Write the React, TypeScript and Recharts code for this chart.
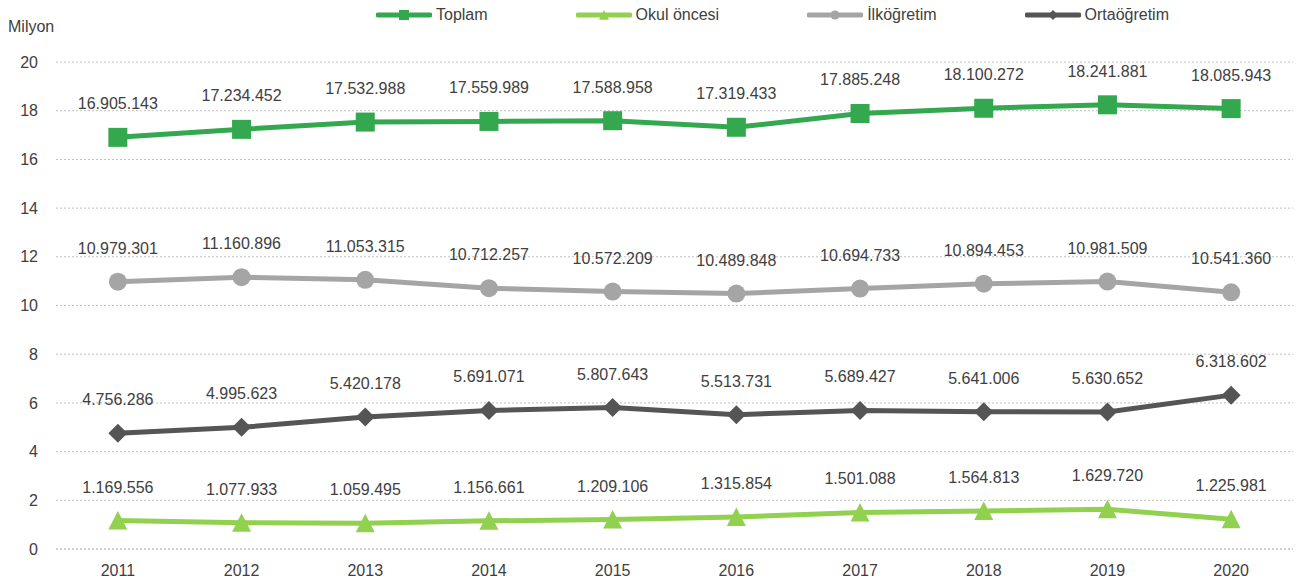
import { LineChart, Line, XAxis, YAxis, CartesianGrid } from 'recharts'

const years = ['2011', '2012', '2013', '2014', '2015', '2016', '2017', '2018', '2019', '2020']
const toplam = [16905143, 17234452, 17532988, 17559989, 17588958, 17319433, 17885248, 18100272, 18241881, 18085943]
const okulOncesi = [1169556, 1077933, 1059495, 1156661, 1209106, 1315854, 1501088, 1564813, 1629720, 1225981]
const ilkogretim = [10979301, 11160896, 11053315, 10712257, 10572209, 10489848, 10694733, 10894453, 10981509, 10541360]
const ortaogretim = [4756286, 4995623, 5420178, 5691071, 5807643, 5513731, 5689427, 5641006, 5630652, 6318602]
const yTicks = [0, 2, 4, 6, 8, 10, 12, 14, 16, 18, 20]

const series = [
  { key: 'toplam', name: 'Toplam', color: '#33a84f', raw: toplam, shape: 'square' },
  { key: 'okul', name: 'Okul öncesi', color: '#92d050', raw: okulOncesi, shape: 'triangle' },
  { key: 'ilk', name: 'İlköğretim', color: '#a5a5a5', raw: ilkogretim, shape: 'circle' },
  { key: 'orta', name: 'Ortaöğretim', color: '#555555', raw: ortaogretim, shape: 'diamond' },
]

const data = years.map((year, i) => {
  const row: any = { year }
  series.forEach(s => {
    row[s.key] = s.raw[i] / 1e6
  })
  return row
})

const fmt = (n: number) => String(n).replace(/\B(?=(\d{3})+(?!\d))/g, '.')
const font = '"Liberation Sans", Arial, sans-serif'

function Marker({ cx, cy, shape, color, size = 9.5 }: any) {
  if (cx == null || cy == null) return null
  if (shape === 'square') return <rect x={cx - size} y={cy - size} width={size * 2} height={size * 2} fill={color} />
  if (shape === 'triangle') {
    return <polygon points={`${cx},${cy - size} ${cx + size},${cy + size * 0.95} ${cx - size},${cy + size * 0.95}`} fill={color} />
  }
  if (shape === 'diamond') return <polygon points={`${cx},${cy - size} ${cx + size},${cy} ${cx},${cy + size} ${cx - size},${cy}`} fill={color} />
  return <circle cx={cx} cy={cy} r={size - 0.5} fill={color} />
}

function ValueLabel({ x, y, value }: any) {
  return (
    <text x={x} y={y - 28} textAnchor="middle" fontSize={16} fill="#404040" fontFamily={font}>
      {fmt(value)}
    </text>
  )
}

function LegendBox() {
  return (
    <div style={{ position: 'absolute', left: 376, top: 6, display: 'flex', gap: 88, fontFamily: font, fontSize: 16, color: '#404040' }}>
      {series.map(s => (
        <div key={s.key} style={{ display: 'flex', alignItems: 'center', gap: 4 }}>
          <svg width={56} height={16}>
            <line x1={2} y1={8} x2={54} y2={8} stroke={s.color} strokeWidth={5} strokeLinecap="round" />
            <Marker cx={28} cy={8} shape={s.shape} color={s.color} size={5} />
          </svg>
          <span>{s.name}</span>
        </div>
      ))}
    </div>
  )
}

export default function App() {
  return (
    <div style={{ position: 'absolute', left: 0, top: 0, width: 1296, height: 588, background: '#fff' }}>
      <div style={{ position: 'absolute', left: 8, top: 18, fontFamily: font, fontSize: 16, color: '#404040' }}>Milyon</div>
      <LegendBox />
      <LineChart width={1296} height={588} data={data} margin={{ top: 62, right: 3, bottom: 0, left: 0 }}>
        <CartesianGrid vertical={false} stroke="#bfbfbf" strokeDasharray="2 2" />
        <XAxis
          dataKey="year"
          scale="band"
          height={39}
          tickSize={0}
          tickMargin={16}
          axisLine={{ stroke: '#bfbfbf', strokeDasharray: '2 2' }}
          tick={{ fontSize: 16, fill: '#404040', fontFamily: font }}
        />
        <YAxis
          width={56}
          domain={[0, 20]}
          ticks={yTicks}
          axisLine={false}
          tickSize={0}
          tickMargin={18}
          tick={{ fontSize: 16, fill: '#404040', fontFamily: font }}
        />
        {series.map(s => (
          <Line
            key={s.key}
            dataKey={s.key}
            name={s.name}
            stroke={s.color}
            strokeWidth={5}
            isAnimationActive={false}
            dot={(p: any) => <Marker key={`${s.key}-${p.index}`} cx={p.cx} cy={p.cy} shape={s.shape} color={s.color} />}
            activeDot={false}
            label={(p: any) => <ValueLabel key={`${s.key}-l-${p.index}`} x={p.x} y={p.y} value={s.raw[p.index]} />}
          />
        ))}
      </LineChart>
    </div>
  )
}
